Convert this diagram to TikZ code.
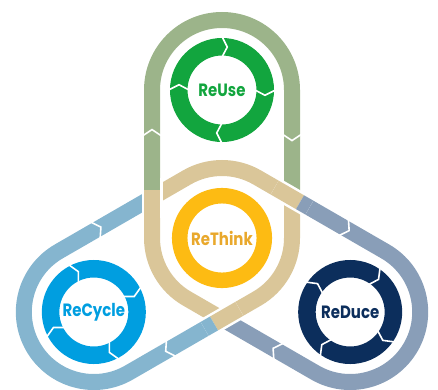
\documentclass[tikz,border=0pt]{standalone}
\usepackage{fontspec}
\newfontfamily\lab{Poppins}[FakeStretch=0.84]
\usetikzlibrary{calc}
\definecolor{greenband}{HTML}{9CB48A}
\definecolor{greenring}{HTML}{12A53E}
\definecolor{tanband}{HTML}{DAC699}
\definecolor{blueband}{HTML}{85B5CF}
\definecolor{greyband}{HTML}{899EB8}
\definecolor{cyclering}{HTML}{009EE0}
\definecolor{ducering}{HTML}{0C2E5C}
\definecolor{thinkring}{HTML}{FDBB13}
\definecolor{thinktext}{HTML}{E9A82C}
\newcommand\bandmark[2]{\draw[white, line width=1.6pt, line join=miter]
  ($(#1)+(#2:-3pt)+(#2+90:9pt)$) -- ($(#1)+(#2:3pt)$) -- ($(#1)+(#2:-3pt)+(#2-90:9pt)$);}
\newcommand\ringcut[2]{\draw[white, line width=1.6pt, line join=miter]
  ($(#1)+(#2:53.5pt)$) -- ($(#1)+(#2-7:43.25pt)$) -- ($(#1)+(#2:33pt)$);}
\begin{document}
\begin{tikzpicture}[x=1pt,y=1pt,
  band/.style={line width=16pt, line cap=butt},
  gapband/.style={line width=21pt, line cap=butt, white},
  ring/.style={line width=17.5pt},
  lbl/.style={font=\lab\bfseries\fontsize{17.8}{18}\selectfont, inner sep=0pt}]
\useasboundingbox (0,0) rectangle (438,389);
\coordinate (Ct) at (222,151);
\coordinate (Cu) at (222,299);
\coordinate (Cc) at (93.83,77);
\coordinate (Cd) at (350.17,77);
\coordinate (Vul) at ($(Ct)+(150:80.83pt)$);
\coordinate (Vur) at ($(Ct)+(30:80.83pt)$);
\coordinate (B) at ($(Ct)+(270:80.83pt)$);
% base loops
\draw[band, greenband] (Vul) -- ($(Cu)+(180:70pt)$) arc[start angle=180, end angle=0, radius=70pt] -- (Vur);
\draw[band, greyband] (Vur) -- ($(Cd)+(60:70pt)$) arc[start angle=60, end angle=-120, radius=70pt] -- (B);
\draw[band, blueband] (B) -- ($(Cc)+(300:70pt)$) arc[start angle=300, end angle=120, radius=70pt] -- (Vul);
\draw[band, tanband] (Vur) -- ($(Ct)+(0:70pt)$) arc[start angle=0, end angle=-60, radius=70pt] -- (B);
\draw[band, tanband] (Vul) -- ($(Ct)+(120:70pt)$) arc[start angle=120, end angle=60, radius=70pt] -- (Vur);
\draw[band, tanband] (B) -- ($(Ct)+(240:70pt)$) arc[start angle=240, end angle=180, radius=70pt] -- (Vul);
% crossing at upper left: vertical over
\draw[gapband] ($(Vul)+(0,-20pt)$) -- ($(Vul)+(0,20pt)$);
\draw[band, tanband] ($(Vul)+(0,-20pt)$) -- ($(Vul)+(0,8pt)$);
\draw[band, greenband] ($(Vul)+(0,8pt)$) -- ($(Vul)+(0,20pt)$);
% crossing at upper right: diagonal over
\draw[gapband] ($(Vur)+(150:20pt)$) -- ($(Vur)+(330:20pt)$);
\draw[band, tanband] ($(Vur)+(150:20pt)$) -- ($(Vur)+(330:9.24pt)$);
\draw[band, greyband] ($(Vur)+(330:9.24pt)$) -- ($(Vur)+(330:20pt)$);
% crossing at bottom: lower-right edge over
\draw[gapband] ($(B)+(30:20pt)$) -- ($(B)+(210:20pt)$);
\draw[band, tanband] ($(B)+(30:20pt)$) -- ($(B)+(210:9.24pt)$);
\draw[band, blueband] ($(B)+(210:9.24pt)$) -- ($(B)+(210:20pt)$);
% flow marks on bands
\coordinate (m1) at ($(Vul)+(90:65pt)$);
\coordinate (m2) at ($(Vur)+(270:-60pt)$);
\coordinate (m3) at ($(Vul)+(210:62pt)$);
\coordinate (m4) at ($(B)+(210:62pt)$);
\coordinate (m5) at ($(Vur)+(330:63pt)$);
\coordinate (m6) at ($(B)+(330:62pt)$);
\bandmark{m1}{90}
\bandmark{m2}{270}
\bandmark{m3}{30}
\bandmark{m4}{210}
\bandmark{m5}{330}
\bandmark{m6}{150}
% rings
\draw[ring, greenring] (Cu) circle[radius=43.25pt];
\draw[ring, cyclering] (Cc) circle[radius=43.25pt];
\draw[ring, ducering] (Cd) circle[radius=43.25pt];
\draw[line width=15.5pt, thinkring] (Ct) circle[radius=42.3pt];
\foreach \a in {0,90,180,270} {\ringcut{Cu}{\a}}
\foreach \a in {28,118,208,298} {\ringcut{Cc}{\a}}
\foreach \a in {56,146,236,326} {\ringcut{Cd}{\a}}
% labels
\node[lbl, text=greenring] (tu) at (Cu) {ReUse};
\node[lbl, text=cyclering] (tc) at (Cc) {ReCycle};
\node[lbl, text=ducering] (td) at (Cd) {ReDuce};
\node[lbl, text=thinktext] (tt) at (Ct) {ReThink};
\end{tikzpicture}
\end{document}
